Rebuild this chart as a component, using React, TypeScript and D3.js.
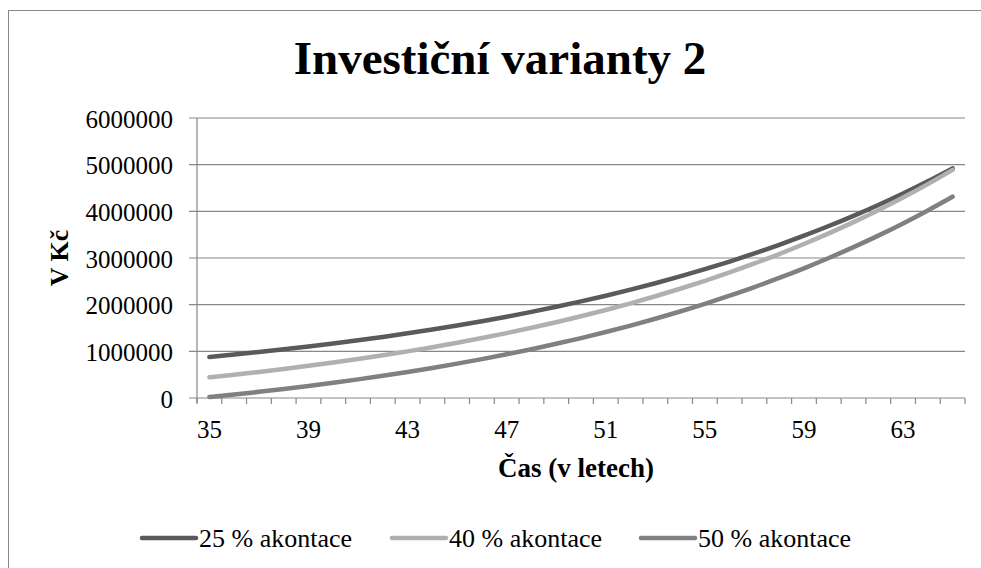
import React from "react";
import * as d3 from "d3";

const years = [35,36,37,38,39,40,41,42,43,44,45,46,47,48,49,50,51,52,53,54,55,56,57,58,59,60,61,62,63,64,65];
const tickLabelYears = [35,39,43,47,51,55,59,63];
const yTicks = [0,1000000,2000000,3000000,4000000,5000000,6000000];

const s25 = [880000,931000,985000,1043000,1104000,1168000,1237000,1309000,1386000,1467000,1554000,1645000,1742000,1845000,1954000,2070000,2192000,2322000,2460000,2606000,2760000,2924000,3098000,3282000,3478000,3685000,3904000,4137000,4383000,4644000,4921000];
const s40 = [443000,499000,559000,622000,689000,760000,835000,915000,999000,1089000,1184000,1285000,1391000,1505000,1624000,1752000,1886000,2029000,2181000,2341000,2511000,2691000,2883000,3085000,3300000,3527000,3769000,4025000,4296000,4583000,4888000];
const s50 = [20000,74000,132000,193000,258000,326000,399000,476000,557000,644000,736000,833000,936000,1045000,1161000,1284000,1414000,1552000,1698000,1853000,2017000,2192000,2376000,2572000,2779000,2999000,3232000,3479000,3741000,4019000,4313000];

const seriesNames = ["25 % akontace","40 % akontace","50 % akontace"];
const seriesColors = ["#5a5a5a","#b0b0b0","#808080"];
const seriesData = [s25, s40, s50];

const FONT = "Liberation Serif, Times New Roman, Times, DejaVu Serif, serif";
const fs = { fontFamily: FONT };

export default function App() {
  const W = 981, H = 568;
  const left = 197, right = 965, top = 118, bottom = 398;
  const x = d3.scaleBand<number>().domain(years).range([left, right]).paddingInner(0).paddingOuter(0);
  const bw = x.bandwidth();
  const cx = (v: number) => (x(v) as number) + bw / 2;
  const y = d3.scaleLinear().domain([0, 6000000]).range([bottom, top]);
  const line = d3.line<number>().x((_, i) => cx(years[i])).y(d => y(d)).curve(d3.curveMonotoneX);
  const gridColor = "#878787";
  const legendX = [142, 392, 641];
  const legendY = 538;

  return (
    <svg width={W} height={H} style={{ position: "absolute", left: 0, top: 0, display: "block", background: "#fff" }}>
      <rect x={8.5} y={10.5} width={983} height={600} fill="#fff" stroke="#888" strokeWidth={1} />
      <text x={500} y={74} textAnchor="middle" fontSize={47} fontWeight="bold" fill="#000" style={fs}>Investiční varianty 2</text>
      {yTicks.map(t => (
        <g key={t}>
          <line x1={left - 8} x2={right} y1={y(t)} y2={y(t)} stroke={gridColor} strokeWidth={1.2} />
          <text x={173} y={y(t) + 9.5} textAnchor="end" fontSize={25} fill="#000" style={fs}>{t}</text>
        </g>
      ))}
      <line x1={left} x2={left} y1={top} y2={bottom + 5} stroke={gridColor} strokeWidth={1.2} />
      {d3.range(years.length + 1).map(i => (
        <line key={i} x1={left + i * bw} x2={left + i * bw} y1={bottom} y2={bottom + 6} stroke={gridColor} strokeWidth={1.2} />
      ))}
      {tickLabelYears.map(v => (
        <text key={v} x={cx(v)} y={438} textAnchor="middle" fontSize={25} fill="#000" style={fs}>{v}</text>
      ))}
      <text x={576} y={477} textAnchor="middle" fontSize={27} fontWeight="bold" fill="#000" style={fs}>Čas (v letech)</text>
      <text transform="translate(68,258) rotate(-90)" textAnchor="middle" fontSize={26} fontWeight="bold" fill="#000" style={fs}>V Kč</text>
      {seriesData.map((d, k) => (
        <path key={k} d={line(d) || ""} fill="none" stroke={seriesColors[k]} strokeWidth={4.5} strokeLinecap="round" strokeLinejoin="round" />
      ))}
      {seriesNames.map((n, k) => (
        <g key={n}>
          <line x1={legendX[k]} x2={legendX[k] + 54} y1={legendY} y2={legendY} stroke={seriesColors[k]} strokeWidth={4.5} strokeLinecap="round" />
          <text x={legendX[k] + 57} y={legendY + 9} fontSize={26} fill="#000" style={fs}>{n}</text>
        </g>
      ))}
    </svg>
  );
}
